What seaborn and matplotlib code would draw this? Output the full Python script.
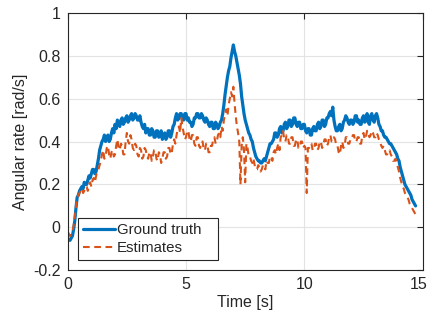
import numpy as np
import pandas as pd
import matplotlib
matplotlib.use("Agg")
import matplotlib.pyplot as plt
import matplotlib.transforms as mtransforms
import seaborn as sns

# Sampling grid [s], 20 Hz
time_s = np.round(np.arange(0.0, 14.701, 0.05), 2)

ground_truth = [
    -0.05, -0.06, -0.06, -0.05, -0.04, -0.01, 0.03, 0.09, 0.14, 0.15,
    0.17, 0.18, 0.19, 0.18, 0.21, 0.20, 0.20, 0.22, 0.24, 0.23,
    0.25, 0.27, 0.27, 0.25, 0.26, 0.29, 0.32, 0.36, 0.38, 0.40,
    0.41, 0.43, 0.40, 0.42, 0.43, 0.40, 0.41, 0.44, 0.46, 0.44,
    0.48, 0.46, 0.50, 0.48, 0.47, 0.50, 0.51, 0.48, 0.49, 0.51,
    0.52, 0.49, 0.50, 0.52, 0.53, 0.50, 0.51, 0.53, 0.52, 0.50,
    0.50, 0.52, 0.49, 0.47, 0.46, 0.48, 0.44, 0.46, 0.46, 0.43,
    0.43, 0.46, 0.45, 0.42, 0.42, 0.45, 0.45, 0.42, 0.43, 0.45,
    0.41, 0.43, 0.44, 0.41, 0.42, 0.45, 0.45, 0.42, 0.44, 0.47,
    0.48, 0.51, 0.53, 0.50, 0.51, 0.53, 0.53, 0.50, 0.50, 0.53,
    0.53, 0.50, 0.51, 0.49, 0.49, 0.47, 0.48, 0.51, 0.51, 0.53,
    0.53, 0.51, 0.51, 0.53, 0.52, 0.50, 0.49, 0.51, 0.50, 0.48,
    0.47, 0.49, 0.49, 0.46, 0.46, 0.49, 0.48, 0.46, 0.47, 0.49,
    0.50, 0.53, 0.57, 0.62, 0.66, 0.70, 0.73, 0.75, 0.79, 0.82,
    0.85, 0.82, 0.80, 0.77, 0.74, 0.71, 0.67, 0.61, 0.57, 0.53,
    0.50, 0.48, 0.46, 0.44, 0.43, 0.41, 0.40, 0.37, 0.35, 0.33,
    0.32, 0.31, 0.31, 0.30, 0.30, 0.31, 0.32, 0.31, 0.33, 0.35,
    0.37, 0.39, 0.39, 0.40, 0.41, 0.44, 0.44, 0.42, 0.43, 0.46,
    0.47, 0.44, 0.45, 0.48, 0.49, 0.46, 0.47, 0.50, 0.50, 0.47,
    0.48, 0.51, 0.51, 0.48, 0.47, 0.49, 0.49, 0.46, 0.46, 0.48,
    0.48, 0.45, 0.44, 0.46, 0.46, 0.43, 0.43, 0.46, 0.47, 0.45,
    0.45, 0.48, 0.49, 0.46, 0.47, 0.50, 0.50, 0.47, 0.48, 0.51,
    0.51, 0.53, 0.54, 0.52, 0.56, 0.50, 0.47, 0.45, 0.45, 0.47,
    0.48, 0.45, 0.46, 0.49, 0.50, 0.52, 0.51, 0.49, 0.48, 0.50,
    0.50, 0.48, 0.49, 0.52, 0.52, 0.49, 0.50, 0.48, 0.48, 0.51,
    0.52, 0.49, 0.50, 0.53, 0.49, 0.48, 0.52, 0.53, 0.50, 0.49,
    0.52, 0.53, 0.51, 0.48, 0.47, 0.45, 0.45, 0.43, 0.42, 0.42,
    0.41, 0.40, 0.39, 0.39, 0.38, 0.37, 0.36, 0.35, 0.34, 0.32,
    0.31, 0.28, 0.26, 0.24, 0.22, 0.20, 0.19, 0.18, 0.17, 0.16,
    0.15, 0.13, 0.12, 0.11, 0.10,
]

estimates = [
    -0.02, -0.03, -0.04, -0.03, -0.02, 0.01, 0.05, 0.10, 0.14, 0.15,
    0.16, 0.18, 0.18, 0.16, 0.17, 0.19, 0.19, 0.17, 0.20, 0.21,
    0.19, 0.22, 0.23, 0.21, 0.24, 0.26, 0.27, 0.29, 0.31, 0.34,
    0.36, 0.32, 0.33, 0.37, 0.38, 0.34, 0.32, 0.35, 0.36, 0.33,
    0.34, 0.38, 0.41, 0.37, 0.36, 0.39, 0.38, 0.34, 0.34, 0.40,
    0.44, 0.40, 0.39, 0.43, 0.41, 0.37, 0.36, 0.39, 0.38, 0.34,
    0.33, 0.37, 0.36, 0.32, 0.33, 0.37, 0.36, 0.33, 0.32, 0.35,
    0.35, 0.31, 0.33, 0.36, 0.36, 0.32, 0.31, 0.35, 0.34, 0.30,
    0.32, 0.35, 0.35, 0.32, 0.33, 0.37, 0.37, 0.34, 0.35, 0.39,
    0.41, 0.39, 0.43, 0.46, 0.47, 0.44, 0.51, 0.47, 0.44, 0.41,
    0.42, 0.45, 0.45, 0.41, 0.40, 0.43, 0.43, 0.39, 0.38, 0.42,
    0.42, 0.38, 0.37, 0.40, 0.40, 0.36, 0.36, 0.39, 0.39, 0.35,
    0.35, 0.38, 0.38, 0.41, 0.42, 0.39, 0.40, 0.43, 0.44, 0.42,
    0.47, 0.45, 0.50, 0.53, 0.55, 0.52, 0.57, 0.60, 0.63, 0.61,
    0.655, 0.58, 0.52, 0.47, 0.44, 0.40, 0.20, 0.38, 0.42, 0.36,
    0.21, 0.39, 0.37, 0.33, 0.33, 0.31, 0.30, 0.32, 0.29, 0.27,
    0.27, 0.29, 0.28, 0.26, 0.27, 0.29, 0.29, 0.27, 0.31, 0.30,
    0.30, 0.33, 0.33, 0.31, 0.35, 0.36, 0.34, 0.37, 0.39, 0.36,
    0.42, 0.43, 0.45, 0.41, 0.40, 0.43, 0.43, 0.39, 0.39, 0.42,
    0.42, 0.38, 0.38, 0.41, 0.41, 0.37, 0.37, 0.40, 0.40, 0.37,
    0.38, 0.37, 0.16, 0.37, 0.37, 0.39, 0.39, 0.36, 0.36, 0.39,
    0.39, 0.36, 0.37, 0.40, 0.40, 0.37, 0.38, 0.41, 0.41, 0.38,
    0.39, 0.42, 0.43, 0.40, 0.40, 0.42, 0.41, 0.38, 0.38, 0.35,
    0.34, 0.38, 0.40, 0.37, 0.38, 0.42, 0.42, 0.39, 0.39, 0.41,
    0.41, 0.43, 0.43, 0.40, 0.40, 0.42, 0.42, 0.39, 0.39, 0.43,
    0.44, 0.41, 0.42, 0.45, 0.45, 0.42, 0.43, 0.45, 0.44, 0.42,
    0.42, 0.44, 0.43, 0.41, 0.40, 0.38, 0.37, 0.38, 0.36, 0.34,
    0.34, 0.36, 0.36, 0.34, 0.33, 0.31, 0.31, 0.32, 0.30, 0.28,
    0.26, 0.23, 0.21, 0.19, 0.18, 0.16, 0.15, 0.14, 0.13, 0.11,
    0.10, 0.09, 0.08, 0.07, 0.06,
]

series_names = ["Ground truth", "Estimates"]
x_ticks = [0, 5, 10, 15]
y_ticks = [-0.2, 0, 0.2, 0.4, 0.6, 0.8, 1.0]
y_tick_labels = ["-0.2", "0", "0.2", "0.4", "0.6", "0.8", "1"]

df = pd.DataFrame({
    "t": np.concatenate([time_s, time_s]),
    "rate": np.concatenate([ground_truth, estimates]),
    "series": [series_names[0]] * len(time_s) + [series_names[1]] * len(time_s),
})

sns.set_style("white")
plt.rcParams["font.family"] = ["Liberation Sans", "DejaVu Sans"]

ink = "#262626"
fig = plt.figure(figsize=(4.30, 3.24), dpi=100)
ax = fig.add_axes([0.1574, 0.1657, 0.8256, 0.795])

sns.lineplot(
    data=df, x="t", y="rate", hue="series", style="series",
    palette=["#0072BD", "#D95319"],
    dashes=[(None, None), (3.2, 2.2)],
    linewidth=1.5, ax=ax, legend=True, estimator=None, sort=False,
)
for ln in ax.get_lines():
    if ln.get_linestyle() == "-":
        ln.set_linewidth(2.3)

ax.set_xlim(0, 15)
ax.set_ylim(-0.2, 1.0)
ax.set_xticks(x_ticks)
ax.set_yticks(y_ticks)
ax.set_yticklabels(y_tick_labels)
ax.grid(True, color="#e3e3e3", linewidth=0.8)
ax.set_axisbelow(True)
for sp in ax.spines.values():
    sp.set_visible(True)
    sp.set_color(ink)
    sp.set_linewidth(0.8)
ax.tick_params(direction="in", length=4, width=0.8, colors=ink,
               labelsize=11.5, top=True, right=True, pad=5)
ax.set_xlabel("Time [s]", fontsize=11.5, color=ink, labelpad=2)
ax.set_ylabel("Angular rate [rad/s]", fontsize=11.5, color=ink, labelpad=4)

# Nudge the last x tick label inward so it stays inside the figure
last_label = ax.get_xticklabels()[-1]
last_label.set_transform(last_label.get_transform() +
                         mtransforms.ScaledTranslation(-4 / 100, 0, fig.dpi_scale_trans))

# Legend box spans a fixed width in the lower-left corner
leg = ax.legend(loc="lower left", bbox_to_anchor=(0.029, 0.04, 0.394, 0.159),
                mode="expand", borderaxespad=0.0, fontsize=10.8,
                frameon=True, fancybox=False, edgecolor=ink, framealpha=1.0,
                borderpad=0.35, labelspacing=0.25, handlelength=2.1,
                handletextpad=0.15)
leg.get_frame().set_linewidth(0.8)
for txt in leg.get_texts():
    txt.set_color(ink)

fig.savefig("out.png", dpi=100)
